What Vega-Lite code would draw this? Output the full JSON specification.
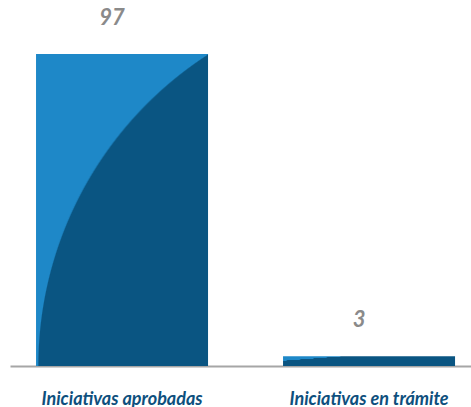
{
  "$schema": "https://vega.github.io/schema/vega-lite/v6.json",
  "autosize": "none",
  "width": 461,
  "height": 312,
  "padding": {"left": 10, "top": 54, "right": 0, "bottom": 41},
  "background": "white",
  "config": {"view": {"stroke": null}},
  "data": {
    "values": [
      {"categoria": "Iniciativas aprobadas", "value": 97},
      {"categoria": "Iniciativas en trámite", "value": 3}
    ]
  },
  "encoding": {
    "x": {
      "field": "categoria",
      "type": "nominal",
      "sort": null,
      "scale": {"paddingInner": 0.3036, "paddingOuter": 0.085, "align": 0.62},
      "axis": {
        "title": null,
        "labelAngle": 0,
        "ticks": false,
        "tickSize": 0,
        "domainColor": "#a6a6a6",
        "domainWidth": 2,
        "labelBaseline": "alphabetic",
        "labelPadding": 38,
        "labelFont": "Lato",
        "labelFontSize": 18,
        "labelFontWeight": "bold",
        "labelFontStyle": "italic",
        "labelColor": "#0d4f7d"
      }
    },
    "y": {
      "field": "value",
      "type": "quantitative",
      "scale": {"domain": [0, 97], "nice": false},
      "axis": null
    }
  },
  "layer": [
    {
      "mark": {"type": "bar", "stroke": null},
      "encoding": {
        "fill": {
          "condition": {
            "test": "datum.value < 50",
            "value": {
              "gradient": "linear",
              "x1": 0, "y1": 0, "x2": 0.2236, "y2": 0.1675,
              "stops": [
                {"offset": 0, "color": "#1e88c8"},
                {"offset": 0.97, "color": "#1e88c8"},
                {"offset": 1, "color": "#0a5582"}
              ]
            }
          },
          "value": {
            "gradient": "radial",
            "x1": 1.42, "y1": 1.0, "r1": 0,
            "x2": 1.42, "y2": 1.0, "r2": 1.19,
            "stops": [
              {"offset": 0, "color": "#0a5582"},
              {"offset": 0.997, "color": "#0a5582"},
              {"offset": 1, "color": "#1e88c8"}
            ]
          }
        }
      }
    },
    {
      "mark": {
        "type": "text",
        "baseline": "alphabetic",
        "align": "center",
        "dx": -10,
        "dy": -29,
        "font": "Lato",
        "fontSize": 22,
        "fontWeight": "bold",
        "fontStyle": "italic",
        "color": "#8a8a8a"
      },
      "encoding": {
        "text": {"field": "value", "type": "quantitative"}
      }
    }
  ]
}
